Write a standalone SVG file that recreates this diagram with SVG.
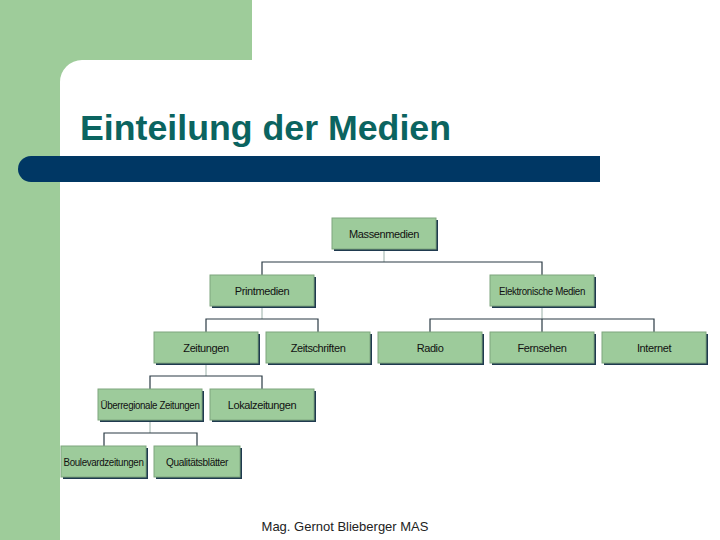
<svg xmlns="http://www.w3.org/2000/svg" width="720" height="540" viewBox="0 0 720 540">
<style>
.b{fill:#9dcb9b;stroke:#7fa67e;stroke-width:1}
.s{fill:#1f3a4f}
.t{font-family:"Liberation Sans Narrow","Liberation Sans",sans-serif;font-size:11px;fill:#111;text-anchor:middle;letter-spacing:-0.4px}
.c{stroke:#2a3a44;stroke-width:1.2;fill:none}
.cl{stroke:#9ab0a8;stroke-width:1;fill:none}
</style>
<rect width="720" height="540" fill="#fff"/>
<rect x="0" y="0" width="252" height="60" fill="#9ecc9a"/>
<rect x="0" y="0" width="60" height="540" fill="#9ecc9a"/>
<path d="M60 60 H82 A22 22 0 0 0 60 82 Z" fill="#9ecc9a"/>
<text x="80" y="140" font-family="Liberation Sans,Arial,sans-serif" font-weight="bold" font-size="35" fill="#0b6460" textLength="371" lengthAdjust="spacingAndGlyphs">Einteilung der Medien</text>
<path d="M31 156 H600 V182 H31 A13 13 0 0 1 31 156 Z" fill="#003764"/>
<g id="connectors">
<path class="cl" d="M384 249V262"/><path class="c" d="M262 275V262H542V275"/>
<path class="cl" d="M262 306V319M542 306V319"/>
<path class="c" d="M206 332V319H318V332M430 332V319H654V332M542 319V332"/>
<path class="cl" d="M206 363V376"/><path class="c" d="M150 389V376H262V389"/>
<path class="cl" d="M150 420V433"/><path class="c" d="M104 446V433H197V446"/>
</g>
<g id="n1"><rect class="s" x="334" y="220" width="104" height="31"/><rect class="b" x="332" y="218" width="104" height="31"/><text class="t" x="384" y="238">Massenmedien</text></g>
<g id="n2"><rect class="s" x="212" y="277" width="104" height="31"/><rect class="b" x="210" y="275" width="104" height="31"/><text class="t" x="262" y="295">Printmedien</text></g>
<g id="n3"><rect class="s" x="492" y="277" width="104" height="31"/><rect class="b" x="490" y="275" width="104" height="31"/><text class="t" x="542" y="295" textLength="86" lengthAdjust="spacingAndGlyphs">Elektronische Medien</text></g>
<g id="n4"><rect class="s" x="156" y="334" width="104" height="31"/><rect class="b" x="154" y="332" width="104" height="31"/><text class="t" x="206" y="352">Zeitungen</text></g>
<g id="n5"><rect class="s" x="268" y="334" width="104" height="31"/><rect class="b" x="266" y="332" width="104" height="31"/><text class="t" x="318" y="352">Zeitschriften</text></g>
<g id="n6"><rect class="s" x="380" y="334" width="104" height="31"/><rect class="b" x="378" y="332" width="104" height="31"/><text class="t" x="430" y="352">Radio</text></g>
<g id="n7"><rect class="s" x="492" y="334" width="104" height="31"/><rect class="b" x="490" y="332" width="104" height="31"/><text class="t" x="542" y="352">Fernsehen</text></g>
<g id="n8"><rect class="s" x="604" y="334" width="104" height="31"/><rect class="b" x="602" y="332" width="104" height="31"/><text class="t" x="654" y="352">Internet</text></g>
<g id="n9"><rect class="s" x="100" y="391" width="104" height="31"/><rect class="b" x="98" y="389" width="104" height="31"/><text class="t" x="150" y="409" textLength="99" lengthAdjust="spacingAndGlyphs">Überregionale Zeitungen</text></g>
<g id="n10"><rect class="s" x="212" y="391" width="104" height="31"/><rect class="b" x="210" y="389" width="104" height="31"/><text class="t" x="262" y="409">Lokalzeitungen</text></g>
<g id="n11"><rect class="s" x="63" y="448" width="85" height="31"/><rect class="b" x="61" y="446" width="85" height="31"/><text class="t" x="103.5" y="466" textLength="80" lengthAdjust="spacingAndGlyphs">Boulevardzeitungen</text></g>
<g id="n12"><rect class="s" x="156" y="448" width="86" height="31"/><rect class="b" x="154" y="446" width="86" height="31"/><text class="t" x="197" y="466" textLength="62" lengthAdjust="spacingAndGlyphs">Qualitätsblätter</text></g>
<text x="345" y="531" font-family="Liberation Sans,Arial,sans-serif" font-size="13" fill="#222" text-anchor="middle">Mag. Gernot Blieberger MAS</text>
</svg>
